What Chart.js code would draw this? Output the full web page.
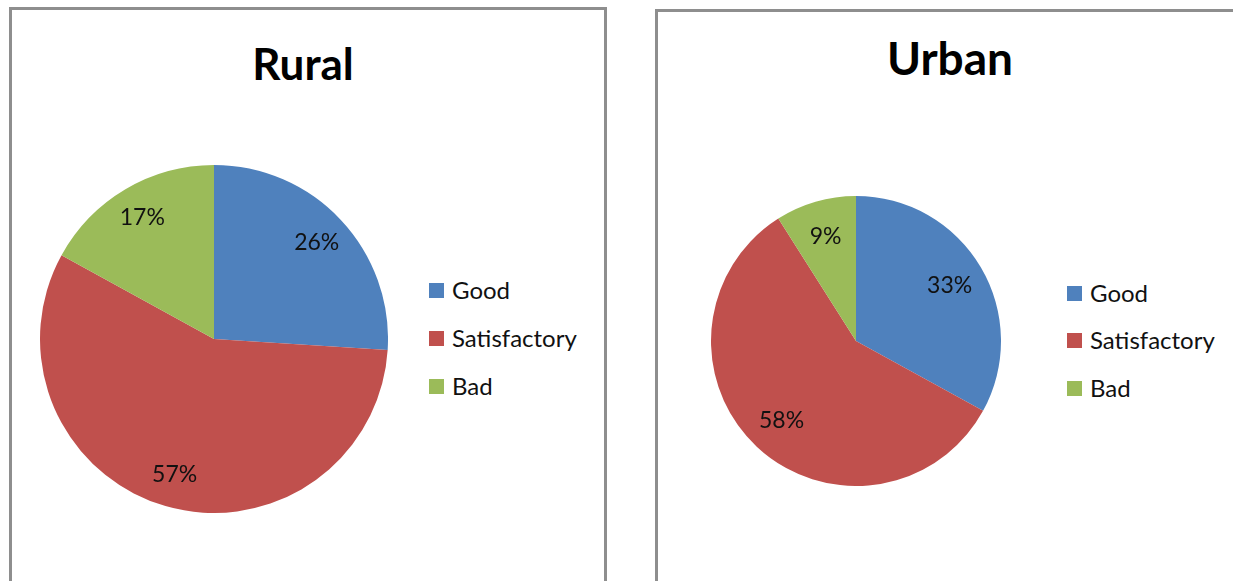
<!DOCTYPE html>
<html>
<head>
<meta charset="utf-8">
<script src="https://cdn.jsdelivr.net/npm/chart.js@4/dist/chart.umd.min.js"></script>
<style>
    body { margin: 0; background: #fff; font-family: Lato, "Open Sans", sans-serif; }
    .panel { position: absolute; border: 3px solid #8e8e8e; background: #fff; }
    .title { position: absolute; font-weight: bold; color: #000; text-align: center; line-height: 1; }
    .legend { position: absolute; font-size: 24px; color: #111; }
    .legend div { position: absolute; white-space: nowrap; line-height: 1; }
    .legend span { display: inline-block; width: 15px; height: 15px; margin-right: 8px; vertical-align: 1px; }
    canvas { position: absolute; }
</style>
</head>
<body>
<div class="panel" style="left:9px; top:7px; width:592px; height:600px;"></div>
<div class="panel" style="left:655px; top:9px; width:620px; height:600px;"></div>

<div class="title" id="title-rural" style="left:203px; top:41px; width:200px; font-size:44px;"></div>
<div class="title" id="title-urban" style="left:850px; top:35px; width:200px; font-size:46px;"></div>

<div class="legend" id="legend-rural" style="left:429px; top:0;"></div>
<div class="legend" id="legend-urban" style="left:1067px; top:0;"></div>

<canvas id="pie-rural" width="348" height="348" style="left:40px; top:165px;"></canvas>
<canvas id="pie-urban" width="290" height="290" style="left:711px; top:196px;"></canvas>

<script>
// 데이터
const categories = ['Good', 'Satisfactory', 'Bad'];
const colors = ['#4f81bd', '#c0504d', '#9bbb59'];
const ruralTitle = 'Rural';
const urbanTitle = 'Urban';
const ruralValues = [26, 57, 17];
const urbanValues = [33, 58, 9];

// 조각 안에 퍼센트 표시
const pctLabels = {
    id: 'pctLabels',
    afterDatasetsDraw(chart, args, opts) {
        const ctx = chart.ctx;
        const meta = chart.getDatasetMeta(0);
        const values = chart.data.datasets[0].data;
        ctx.save();
        ctx.font = opts.size + 'px Lato, "Open Sans", sans-serif';
        ctx.fillStyle = '#111';
        ctx.textAlign = 'center';
        ctx.textBaseline = 'middle';
        meta.data.forEach((arc, i) => {
            const mid = (arc.startAngle + arc.endAngle) / 2;
            const r = arc.outerRadius * opts.ratio;
            ctx.fillText(values[i] + '%', arc.x + Math.cos(mid) * r, arc.y + Math.sin(mid) * r);
        });
        ctx.restore();
    }
};

function makePie(id, values, ratio) {
    return new Chart(document.getElementById(id), {
        type: 'pie',
        data: {
            labels: categories,
            datasets: [{
                data: values,
                backgroundColor: colors,
                borderWidth: 0
            }]
        },
        options: {
            responsive: false,
            animation: false,
            layout: { padding: 0 },
            plugins: {
                legend: { display: false },
                title: { display: false },
                tooltip: { enabled: false },
                pctLabels: { ratio: ratio, size: 23 }
            }
        },
        plugins: [pctLabels]
    });
}

function makeLegend(id, rows) {
    const box = document.getElementById(id);
    categories.forEach((name, i) => {
        const d = document.createElement('div');
        d.style.top = (rows[i] - 12) + 'px';
        d.innerHTML = '<span style="background:' + colors[i] + '"></span>' + name;
        box.appendChild(d);
    });
}

document.getElementById('title-rural').textContent = ruralTitle;
document.getElementById('title-urban').textContent = urbanTitle;
makeLegend('legend-rural', [290, 338, 386]);
makeLegend('legend-urban', [293, 340, 388]);
makePie('pie-rural', ruralValues, 0.81);
makePie('pie-urban', urbanValues, 0.75);
</script>
</body>
</html>
